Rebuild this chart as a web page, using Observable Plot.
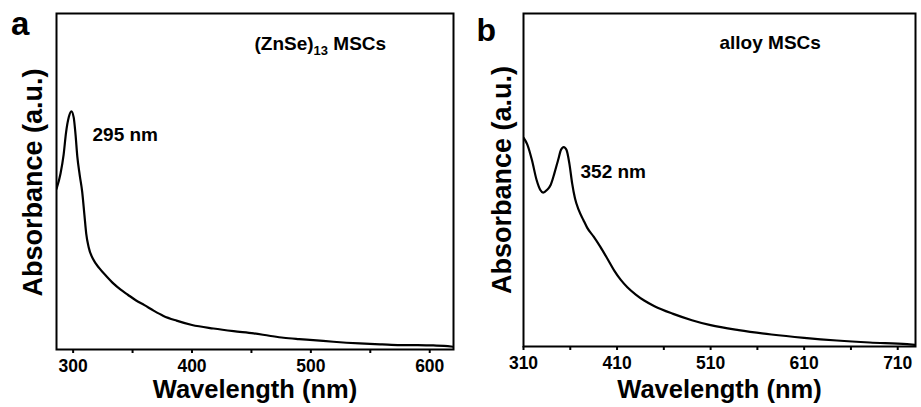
<!DOCTYPE html>
<html>
<head>
<meta charset="utf-8">
<script src="https://cdn.jsdelivr.net/npm/d3@7"></script>
<script src="https://cdn.jsdelivr.net/npm/@observablehq/plot@0.6"></script>
<style>
  html, body { margin: 0; padding: 0; background: #fff; }
  #wrap { display: flex; width: 921px; height: 407px; }
  #wrap svg { display: block; }
</style>
</head>
<body>
<div id="wrap"></div>
<script>
// ---- Panel a: (ZnSe)13 MSCs ----
const wavelengthA = [286, 289.4, 292, 294, 296.3, 298.5, 300.5, 302, 303.5, 305.5, 307.6, 309.5, 311, 313, 317, 322, 328, 334, 340, 346, 353, 360, 368, 376, 387, 400, 418, 435, 452, 465, 477, 490, 502, 519, 541, 560, 575, 590, 603, 612, 620];
const absorbA     = [0.478, 0.524, 0.58, 0.645, 0.691, 0.709, 0.69, 0.64, 0.575, 0.52, 0.47, 0.40, 0.345, 0.305, 0.268, 0.242, 0.218, 0.196, 0.178, 0.163, 0.146, 0.132, 0.115, 0.100, 0.086, 0.073, 0.0625, 0.0546, 0.048, 0.041, 0.035, 0.031, 0.028, 0.023, 0.018, 0.015, 0.013, 0.013, 0.012, 0.011, 0.008];
const ticksA = [300, 400, 500, 600];
const minorA = [350, 450, 550];
const domainA = [286, 620];

// ---- Panel b: alloy MSCs ----
const wavelengthB = [310, 314, 319, 324, 328, 331, 335, 339, 343, 347, 350, 353, 356, 359, 362, 365, 369, 374, 378, 385, 392, 400, 407, 414, 421, 430, 439, 450, 470, 490, 510, 540, 575, 610, 645, 680, 720, 729];
const absorbB     = [0.627, 0.607, 0.56, 0.50, 0.470, 0.462, 0.470, 0.485, 0.52, 0.56, 0.590, 0.599, 0.590, 0.55, 0.49, 0.445, 0.410, 0.380, 0.357, 0.330, 0.300, 0.262, 0.228, 0.200, 0.178, 0.156, 0.138, 0.121, 0.098, 0.079, 0.064, 0.049, 0.036, 0.026, 0.018, 0.012, 0.007, 0.005];
const ticksB = [310, 410, 510, 610, 710];
const minorB = [360, 460, 560, 660];
const domainB = [310, 729];

// ---- Texts ----
const panelLetters = ["a", "b"];
const sampleLabels = ["(ZnSe)13 MSCs", "alloy MSCs"];
const peakLabels = ["295 nm", "352 nm"];
const xTitle = "Wavelength (nm)";
const yTitle = "Absorbance (a.u.)";

const FONT = "'Liberation Sans', Arial, Helvetica, sans-serif";

function panel(cfg) {
  const data = cfg.wl.map((w, i) => ({w, a: cfg.ab[i]}));
  return Plot.plot({
    width: cfg.width,
    height: 407,
    marginLeft: cfg.ml,
    marginRight: cfg.mr,
    marginTop: 13,
    marginBottom: cfg.mb,
    style: {fontFamily: FONT, background: "white", color: "black", overflow: "visible"},
    x: {domain: cfg.domain},
    y: {domain: [0, 1], axis: null},
    marks: [
      Plot.line(data, {x: "w", y: "a", stroke: "black", strokeWidth: 2.2, curve: "monotone-x", clip: true}),
      Plot.frame({stroke: "black", strokeWidth: 2}),
      Plot.axisX({ticks: cfg.ticks, tickSize: 4, tickPadding: 6, strokeWidth: 2, fontSize: 17.5, fontWeight: "bold", label: null, tickFormat: d => String(d)}),
      Plot.axisX({ticks: cfg.minor, tickSize: 4, strokeWidth: 2, label: null, tickFormat: () => ""}),
      Plot.text([cfg.letter], {frameAnchor: "top-left", text: d => d, dx: cfg.letterDx, dy: cfg.letterDy, fontSize: cfg.letterSize, fontWeight: "bold", textAnchor: "start", lineAnchor: "middle", fill: "black"}),
      Plot.text([cfg.sample], {frameAnchor: "top-left", text: d => d, dx: cfg.sampleDx, dy: cfg.sampleDy, fontSize: 19, fontWeight: "bold", textAnchor: "start", lineAnchor: "middle", fill: "black"}),
      Plot.text([cfg.peak], {frameAnchor: "top-left", text: d => d, dx: cfg.peakDx, dy: cfg.peakDy, fontSize: 19, fontWeight: "bold", textAnchor: "start", lineAnchor: "middle", fill: "black"}),
      Plot.text([xTitle], {frameAnchor: "bottom", text: d => d, dy: cfg.xTitleDy, fontSize: 25.5, fontWeight: "bold", textAnchor: "middle", lineAnchor: "middle", fill: "black"}),
      Plot.text([yTitle], {frameAnchor: "left", text: d => d, rotate: -90, dx: cfg.yTitleDx, dy: cfg.yTitleDy, fontSize: 27, fontWeight: "bold", textAnchor: "middle", lineAnchor: "middle", fill: "black"})
    ]
  });
}

const chartA = panel({
  width: 460, ml: 56, mr: 7, mb: 58, domain: domainA, wl: wavelengthA, ab: absorbA,
  ticks: ticksA, minor: minorA,
  letter: panelLetters[0], letterSize: 33, letterDx: -45.6, letterDy: 11.4,
  sample: sampleLabels[0], sampleDx: 198, sampleDy: 30.9,
  peak: peakLabels[0], peakDx: 36, peakDy: 121.6,
  xTitleDy: 40.5, yTitleDx: -23, yTitleDy: 1
});
const chartB = panel({
  width: 461, ml: 63, mr: 6, mb: 61, domain: domainB, wl: wavelengthB, ab: absorbB,
  ticks: ticksB, minor: minorB,
  letter: panelLetters[1], letterSize: 32, letterDx: -47, letterDy: 16.8,
  sample: sampleLabels[1], sampleDx: 196, sampleDy: 29.2,
  peak: peakLabels[1], peakDx: 57, peakDy: 158.2,
  xTitleDy: 43.5, yTitleDx: -21.6, yTitleDy: 0
});

// subscript for (ZnSe)13
for (const t of chartA.querySelectorAll("text")) {
  if (t.textContent === sampleLabels[0]) {
    const m = sampleLabels[0].match(/^(\(ZnSe\))(\d+)(.*)$/);
    t.textContent = "";
    const ns = "http://www.w3.org/2000/svg";
    const s1 = document.createElementNS(ns, "tspan"); s1.textContent = m[1];
    const s2 = document.createElementNS(ns, "tspan"); s2.textContent = m[2];
    s2.setAttribute("font-size", "13"); s2.setAttribute("dy", "5");
    const s3 = document.createElementNS(ns, "tspan"); s3.textContent = m[3];
    s3.setAttribute("dy", "-5");
    t.append(s1, s2, s3);
  }
}

document.getElementById("wrap").append(chartA, chartB);
</script>
</body>
</html>
